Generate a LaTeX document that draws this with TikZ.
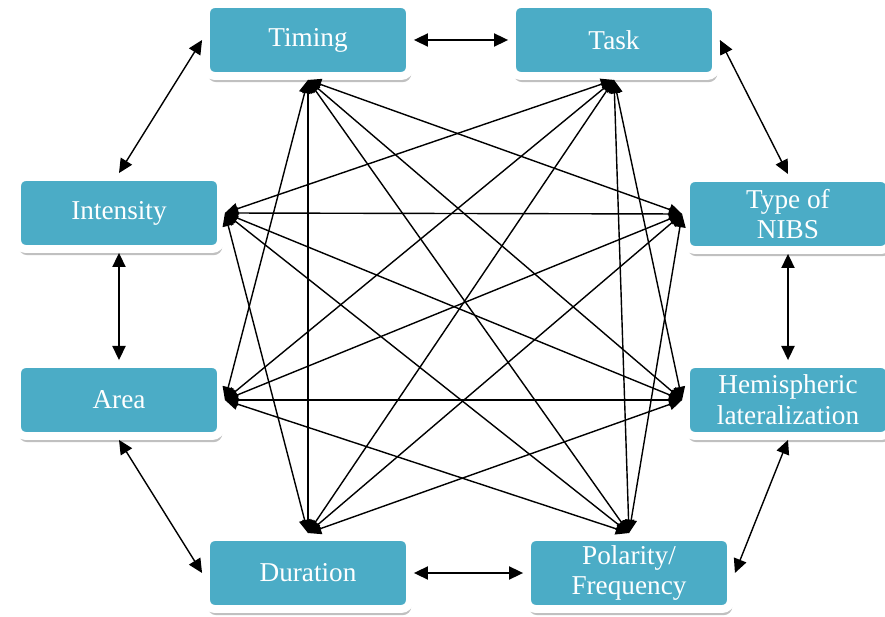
\documentclass[tikz,border=0pt]{standalone}
\usepackage{fontspec}
\setmainfont{Liberation Serif}
\usepackage{xcolor}
\usepackage{tikz}
\usetikzlibrary{arrows.meta,shadows}
\definecolor{boxfill}{HTML}{4BACC6}
\definecolor{boxtext}{HTML}{FFFFFF}
\definecolor{link}{HTML}{000000}
\tikzset{
  factor/.style={rectangle, rounded corners=5pt, fill=boxfill, draw=white,
    line width=4.5pt, text=boxtext, align=center,
    minimum width=4.08cm, minimum height=1.44cm,
    font=\fontsize{15.5}{17.5}\selectfont,
    drop shadow={shadow xshift=0.8pt, shadow yshift=-3.5pt, fill=black!55, opacity=0.45}},
  pair/.style={draw=link, line width=0.8pt, {Triangle[length=8pt,width=7.5pt]}-{Triangle[length=8pt,width=7.5pt]}},
  cross/.style={draw=link, line width=0.8pt, {Triangle[length=7.5pt,width=6.5pt]}-{Triangle[length=7.5pt,width=6.5pt]}},
}

\begin{document}
\begin{tikzpicture}[x=0.02cm, y=-0.02cm]
  \useasboundingbox (0,0) rectangle (885,617);

  % the eight factors, round the ring
  \node[factor] (timing)   at (308,40)  {Timing};
  \node[factor] (task)     at (614,40)  {Task};
  \node[factor] (nibs)     at (788,214) {Type of\\NIBS};
  \node[factor] (hemi)     at (788,400) {Hemispheric\\lateralization};
  \node[factor] (polarity) at (629,573) {Polarity/\\Frequency};
  \node[factor] (duration) at (308,573) {Duration};
  \node[factor] (area)     at (119,400) {Area};
  \node[factor] (intensity) at (119,213) {Intensity};

  % neighbours on the ring
  \draw[pair] (timing.east) -- (task.west);
  \draw[pair] (task.east) -- (nibs.north);
  \draw[pair] (nibs.south) -- (hemi.north);
  \draw[pair] (hemi.south) -- (polarity.east);
  \draw[pair] (polarity.west) -- (duration.east);
  \draw[pair] (duration.west) -- (area.south);
  \draw[pair] (area.north) -- (intensity.south);
  \draw[pair] (intensity.north) -- (timing.west);

  % every other pair across the middle
  \draw[cross] (timing.south) -- (nibs.west);
  \draw[cross] (timing.south) -- (hemi.west);
  \draw[cross] (timing.south) -- (polarity.north);
  \draw[cross] (timing.south) -- (duration.north);
  \draw[cross] (timing.south) -- (area.east);

  \draw[cross] (task.south) -- (hemi.west);
  \draw[cross] (task.south) -- (polarity.north);
  \draw[cross] (task.south) -- (duration.north);
  \draw[cross] (task.south) -- (area.east);
  \draw[cross] (task.south) -- (intensity.east);

  \draw[cross] (nibs.west) -- (polarity.north);
  \draw[cross] (nibs.west) -- (duration.north);
  \draw[cross] (nibs.west) -- (area.east);
  \draw[cross] (nibs.west) -- (intensity.east);

  \draw[cross] (hemi.west) -- (duration.north);
  \draw[cross] (hemi.west) -- (area.east);
  \draw[cross] (hemi.west) -- (intensity.east);

  \draw[cross] (polarity.north) -- (area.east);
  \draw[cross] (polarity.north) -- (intensity.east);

  \draw[cross] (duration.north) -- (intensity.east);
\end{tikzpicture}
\end{document}
